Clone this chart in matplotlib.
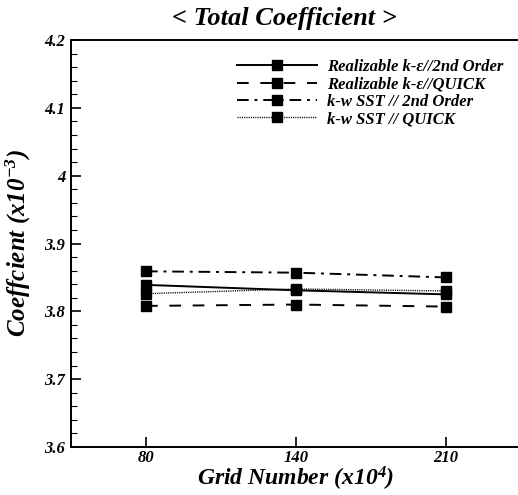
import matplotlib
matplotlib.use("Agg")
import matplotlib.pyplot as plt
from matplotlib.ticker import MultipleLocator, FuncFormatter

plt.rcParams["font.family"] = ["Liberation Serif", "DejaVu Serif"]
plt.rcParams["mathtext.fontset"] = "custom"
plt.rcParams["mathtext.rm"] = "Liberation Serif:bold:italic"
plt.rcParams["mathtext.it"] = "Liberation Serif:bold:italic"

grid_labels = ["80", "140", "210"]
rke_2nd = [3.839, 3.831, 3.825]
rke_quick = [3.808, 3.810, 3.807]
sst_2nd = [3.859, 3.857, 3.850]
sst_quick = [3.826, 3.833, 3.830]

series = [
    ("Realizable k-\u03b5//2nd Order", rke_2nd, "-"),
    ("Realizable k-\u03b5//QUICK", rke_quick, (0, (6, 6))),
    ("k-w SST // 2nd Order", sst_2nd, (0, (6, 3, 1.5, 3))),
    ("k-w SST // QUICK", sst_quick, (0, (0.8, 0.8))),
]

fig = plt.figure(figsize=(5.18, 4.95), dpi=100)
ax = fig.add_axes([71 / 518, 48 / 495, 450 / 518, 407 / 495])

x = list(range(len(grid_labels)))
for label, vals, ls in series:
    lw = 1.0 if ls == (0, (0.8, 0.8)) else 1.4
    ax.plot(x, vals, color="black", linestyle=ls, linewidth=lw,
            marker="s", markersize=7.5, label=label)

ax.set_xlim(-0.5, 2.5)
ax.set_ylim(3.6, 4.2)
ax.set_xticks(x)
ax.set_xticklabels(grid_labels)
ax.yaxis.set_major_locator(MultipleLocator(0.1))
ax.yaxis.set_minor_locator(MultipleLocator(0.02))
ax.yaxis.set_major_formatter(FuncFormatter(lambda v, p: f"{round(v, 2):g}"))
ax.tick_params(axis="both", which="major", direction="in", length=7, width=1.2,
               labelsize=12, pad=4)
ax.tick_params(axis="x", which="major", pad=2)
ax.tick_params(axis="y", which="minor", direction="in", length=4, width=0.8)
for lab in ax.get_xticklabels() + ax.get_yticklabels():
    lab.set_fontweight("bold")
    lab.set_fontstyle("italic")

ax.spines["right"].set_visible(False)
for s in ("left", "bottom", "top"):
    ax.spines[s].set_linewidth(1.4)

ax.set_title("< Total Coefficient >", fontsize=19, fontweight="bold", style="italic",
             pad=11, x=0.475)
ax.set_xlabel("Grid Number (x10$^{4}$)", fontsize=17, fontweight="bold", style="italic", labelpad=-1)
ax.set_ylabel("Coeffcient (x10$^{-3}$)", fontsize=18, fontweight="bold", style="italic", labelpad=8)

leg = ax.legend(loc="upper right", bbox_to_anchor=(0.995, 0.99), frameon=False,
                handlelength=4.8, handletextpad=0.6, labelspacing=0.08,
                prop={"family": "Liberation Serif", "weight": "bold", "style": "italic", "size": 12})

fig.savefig("out.png", dpi=100)
